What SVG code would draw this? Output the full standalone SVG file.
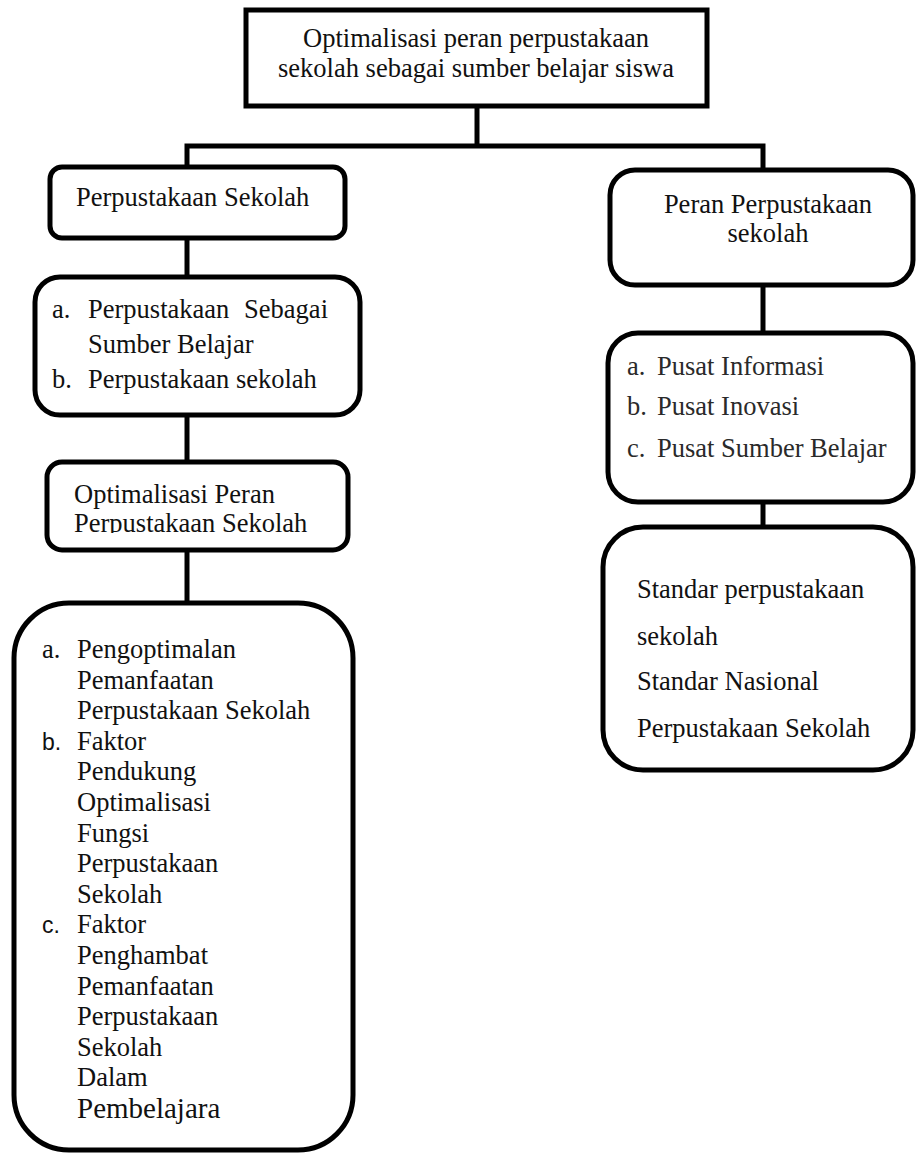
<svg xmlns="http://www.w3.org/2000/svg" width="917" height="1153" viewBox="0 0 917 1153">
<style>
.box{fill:#fff;stroke:#000;stroke-width:5}
.ln{fill:none;stroke:#000;stroke-width:5}
text{font-family:"Liberation Serif","Times New Roman",serif;font-size:26.5px;fill:#111}
.sans{font-family:"Liberation Sans",Arial,sans-serif;font-size:23px}
.gray{fill:#2a2a2a}
.mid{text-anchor:middle}
</style>
<defs>
<clipPath id="clip3"><rect x="47" y="462" width="301" height="71"/></clipPath>
</defs>
<g id="connectors">
<line class="ln" x1="477" y1="106" x2="477" y2="146"/>
<polyline class="ln" points="187,167 187,146 763,146 763,170"/>
<line class="ln" x1="187" y1="238" x2="187" y2="277"/>
<line class="ln" x1="187" y1="415" x2="187" y2="462"/>
<line class="ln" x1="187" y1="550" x2="187" y2="603"/>
<line class="ln" x1="763" y1="285" x2="763" y2="333"/>
<line class="ln" x1="763" y1="502" x2="763" y2="527"/>
</g>
<g id="top">
<rect class="box" x="246" y="10" width="461" height="96"/>
<text class="mid" x="476" y="47">Optimalisasi peran perpustakaan</text>
<text class="mid" x="476" y="77">sekolah sebagai sumber belajar siswa</text>
</g>
<g id="perpustakaan-sekolah">
<rect class="box" x="50" y="167" width="295" height="71" rx="12"/>
<text x="76" y="206">Perpustakaan Sekolah</text>
</g>
<g id="perpustakaan-list">
<rect class="box" x="35" y="277" width="325" height="138" rx="25"/>
<text x="52" y="318">a.</text>
<text x="88" y="318">Perpustakaan</text>
<text x="328" y="318" text-anchor="end">Sebagai</text>
<text x="88" y="353">Sumber Belajar</text>
<text x="52" y="388">b.</text>
<text x="88" y="388">Perpustakaan sekolah</text>
</g>
<g id="optimalisasi-peran">
<rect class="box" x="47" y="462" width="301" height="88" rx="15"/>
<g clip-path="url(#clip3)">
<text x="74" y="503">Optimalisasi Peran</text>
<text x="74" y="532">Perpustakaan Sekolah</text>
</g>
</g>
<g id="optimalisasi-list">
<rect class="box" x="14" y="603" width="339" height="547" rx="55"/>
<text x="42" y="658">a.</text>
<text x="77" y="658">Pengoptimalan</text>
<text x="77" y="688.6">Pemanfaatan</text>
<text x="77" y="719.2">Perpustakaan Sekolah</text>
<text class="sans" x="42" y="749.8">b.</text>
<text x="77" y="749.8">Faktor</text>
<text x="77" y="780.4">Pendukung</text>
<text x="77" y="811">Optimalisasi</text>
<text x="77" y="841.6">Fungsi</text>
<text x="77" y="872.2">Perpustakaan</text>
<text x="77" y="902.8">Sekolah</text>
<text class="sans" x="42" y="933.4">c.</text>
<text x="77" y="933.4">Faktor</text>
<text x="77" y="964">Penghambat</text>
<text x="77" y="994.6">Pemanfaatan</text>
<text x="77" y="1025.2">Perpustakaan</text>
<text x="77" y="1055.8">Sekolah</text>
<text x="77" y="1086.4">Dalam</text>
<text x="77" y="1118" style="font-size:29px">Pembelajara</text>
</g>
<g id="peran-perpustakaan">
<rect class="box" x="610" y="170" width="303" height="115" rx="25"/>
<text class="mid" x="768" y="213">Peran Perpustakaan</text>
<text class="mid" x="768" y="242">sekolah</text>
</g>
<g id="pusat-list">
<rect class="box" x="608" y="333" width="305" height="169" rx="30"/>
<text class="gray" x="627" y="375">a.</text>
<text class="gray" x="657" y="375">Pusat Informasi</text>
<text class="gray" x="627" y="415">b.</text>
<text class="gray" x="657" y="415">Pusat Inovasi</text>
<text class="gray" x="627" y="457">c.</text>
<text class="gray" x="657" y="457">Pusat Sumber Belajar</text>
</g>
<g id="standar">
<rect class="box" x="603" y="527" width="310" height="243" rx="40"/>
<text x="637" y="598">Standar perpustakaan</text>
<text x="637" y="645">sekolah</text>
<text x="637" y="690">Standar Nasional</text>
<text x="637" y="737">Perpustakaan Sekolah</text>
</g>
</svg>
